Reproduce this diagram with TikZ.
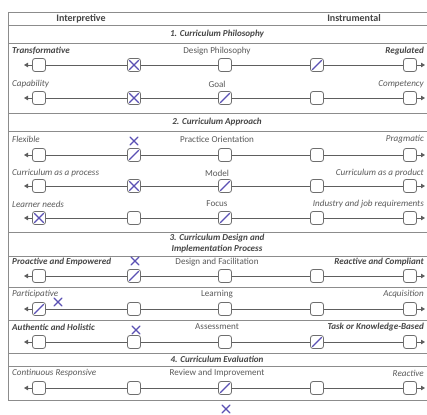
\documentclass[tikz,border=0pt]{standalone}
\usepackage{fontspec}
\setmainfont{Carlito}
\usetikzlibrary{arrows.meta}

\definecolor{rulegray}{HTML}{8C8C8C}
\definecolor{conngray}{HTML}{5E5E5E}
\definecolor{boxgray}{HTML}{6E6E6E}
\definecolor{txtgray}{HTML}{5A5A5A}
\definecolor{darktxt}{HTML}{454545}
\definecolor{penblue}{HTML}{5A50B4}

\tikzset{
  sep/.style={rulegray, line width=0.9pt},
  optbox/.style={draw=boxgray, fill=white, line width=0.8pt, rounded corners=2.5pt,
    minimum width=13pt, minimum height=13pt, inner sep=0pt},
  conn/.style={conngray, line width=0.9pt},
  endarrow/.style={conn, -{Triangle[length=4pt,width=4.5pt]}},
  lbl/.style={inner sep=0pt, text=txtgray, font=\fontsize{9.1}{10.5}\selectfont\itshape},
  lblb/.style={inner sep=0pt, text=darktxt, font=\fontsize{9.1}{10.5}\selectfont\bfseries\itshape},
  midlbl/.style={inner sep=0pt, text=txtgray, font=\fontsize{9.1}{10.5}\selectfont},
  sectitle/.style={inner sep=0pt, text=darktxt, align=center,
    font=\fontsize{9.1}{10.8}\selectfont\bfseries\itshape},
  headlbl/.style={inner sep=0pt, text=darktxt, font=\fontsize{10}{12}\selectfont\bfseries},
  markpen/.style={penblue, line width=1.1pt, line cap=round},
}

% one rating scale: five boxes on a double-headed line
\newcommand\ratingrow[2]{%
  \foreach \c/\xx in {1/39,2/134,3/225,4/317,5/410}{\node[optbox] (#1\c) at (\xx,#2) {};}
  \coordinate (#1L) at (24,#2);
  \coordinate (#1R) at (425,#2);
  \draw[conn] (#11) -- (#12) -- (#13) -- (#14) -- (#15);
  \draw[endarrow] (#11) -- (#1L);
  \draw[endarrow] (#15) -- (#1R);
}
% ticks inside a box
\newcommand\crossbox[1]{%
  \draw[markpen] ([shift={(2.4,-2.4)}]#1.south west) -- ([shift={(-2.4,2.4)}]#1.north east);
  \draw[markpen] ([shift={(2.4,2.4)}]#1.north west) -- ([shift={(-2.4,-2.4)}]#1.south east);
}
\newcommand\slashbox[1]{%
  \draw[markpen] ([shift={(2.4,-2.4)}]#1.south west) -- ([shift={(-2.4,2.4)}]#1.north east);
}
% loose cross drawn by hand
\newcommand\loosecross[2]{%
  \draw[markpen] (#1-4,#2-4) -- (#1+4,#2+4);
  \draw[markpen] (#1+4,#2-4) -- (#1-4,#2+4);
}

\begin{document}
\begin{tikzpicture}[x=1pt,y=-1pt]
\useasboundingbox (0,0) rectangle (427,414);
\fill[white] (0,0) rectangle (427,414);

% frame rules
\foreach \yy in {12,25,43,113,131,232,256,287,320,353,366,400}
  \draw[sep] (8,\yy) -- (427,\yy);
\draw[sep] (8,12) -- (8,400);

% header
\node[headlbl] (hleft) at (81,18.5) {Interpretive};
\node[headlbl] (hright) at (354,18.5) {Instrumental};

% section titles
\node[sectitle] (s1) at (217,34) {1. Curriculum Philosophy};
\node[sectitle] (s2) at (217,122) {2. Curriculum Approach};
\node[sectitle] (s3) at (217,243.5) {3. Curriculum Design and\\Implementation Process};
\node[sectitle] (s4) at (217,359) {4. Curriculum Evaluation};

% row 1
\node[lblb, anchor=west] (l1) at (12,51) {Transformative};
\node[midlbl] (m1) at (217,51) {Design Philosophy};
\node[lblb, anchor=east] (r1) at (424,51) {Regulated};
\ratingrow{a}{65}
\crossbox{a2} \slashbox{a4}

% row 2
\node[lbl, anchor=west] (l2) at (12,84) {Capability};
\node[midlbl] (m2) at (217,84) {Goal};
\node[lbl, anchor=east] (r2) at (424,84) {Competency};
\ratingrow{b}{98}
\crossbox{b2} \slashbox{b3}

% row 3
\node[lbl, anchor=west] (l3) at (12,139) {Flexible};
\node[midlbl] (m3) at (217,139) {Practice Orientation};
\node[lbl, anchor=east] (r3) at (424,139) {Pragmatic};
\ratingrow{c}{155}
\slashbox{c2} \loosecross{134}{141}

% row 4
\node[lbl, anchor=west] (l4) at (12,173) {Curriculum as a process};
\node[midlbl] (m4) at (217,173) {Model};
\node[lbl, anchor=east] (r4) at (424,173) {Curriculum as a product};
\ratingrow{d}{186}
\crossbox{d2} \slashbox{d3}

% row 5
\node[lbl, anchor=west] (l5) at (12,204) {Learner needs};
\node[midlbl] (m5) at (217,204) {Focus};
\node[lbl, anchor=east] (r5) at (424,204) {Industry and job requirements};
\ratingrow{e}{218}
\crossbox{e1} \slashbox{e3}

% row 6
\node[lblb, anchor=west] (l6) at (12,262) {Proactive and Empowered};
\node[midlbl] (m6) at (217,262) {Design and Facilitation};
\node[lblb, anchor=east] (r6) at (424,262) {Reactive and Compliant};
\ratingrow{f}{276}
\slashbox{f2} \loosecross{135}{261}

% row 7
\node[lbl, anchor=west] (l7) at (12,294) {Participative};
\node[midlbl] (m7) at (217,294) {Learning};
\node[lbl, anchor=east] (r7) at (424,294) {Acquisition};
\ratingrow{g}{309}
\slashbox{g1} \loosecross{58}{302}

% row 8
\node[lblb, anchor=west] (l8) at (12,327) {Authentic and Holistic};
\node[midlbl] (m8) at (217,327) {Assessment};
\node[lblb, anchor=east] (r8) at (424,327) {Task or Knowledge-Based};
\ratingrow{h}{342}
\slashbox{h4} \loosecross{136}{330}

% row 9
\node[lbl, anchor=west] (l9) at (12,373) {Continuous Responsive};
\node[midlbl] (m9) at (217,373) {Review and Improvement};
\node[lbl, anchor=east] (r9) at (424,373) {Reactive};
\ratingrow{k}{388}
\slashbox{k3} \loosecross{226}{409}

\end{tikzpicture}
\end{document}
